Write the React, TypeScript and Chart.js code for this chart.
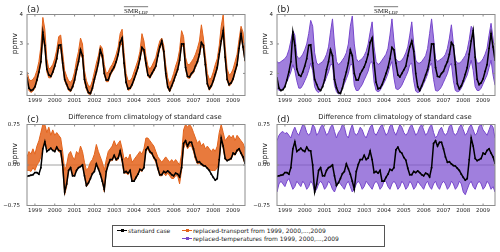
import React, { useEffect, useRef } from "react";
import { Chart, registerables } from "chart.js";

Chart.register(...registerables);

// ---------- data ----------
const YEARS = [1999, 2000, 2001, 2002, 2003, 2004, 2005, 2006, 2007, 2008, 2009];
const START = 1998.6;
const STEP = 0.1;

// standard case, SMR_LDP (ppmv)
const BLACK_A = [
  1.85, 1.5, 1.42, 1.45, 1.55, 1.78, 2.05, 2.4, 3.4, 2.95,
  2.15, 1.95, 1.9, 2.05, 2.25, 2.5, 2.95, 2.97, 2.35, 1.8,
  1.63, 1.47, 1.42, 1.55, 1.78, 2.13, 2.4, 2.8, 2.6, 1.8,
  1.52, 1.35, 1.32, 1.5, 1.8, 2.05, 2.35, 2.8, 2.6, 2.0,
  1.78, 1.78, 1.98, 2.1, 2.22, 2.4, 2.65, 3.05, 3.2, 2.35,
  1.7, 1.48, 1.5, 1.62, 1.8, 2.0, 2.2, 2.5, 2.88, 2.8,
  2.35, 1.95, 1.88, 2.0, 2.12, 2.25, 2.6, 2.9, 3.1, 2.75,
  2.0, 1.55, 1.42, 1.58, 1.75, 1.95, 2.13, 2.45, 3.0, 3.0,
  2.2, 1.9, 1.88, 2.0, 2.07, 2.25, 2.4, 2.65, 3.05, 2.95,
  2.3, 1.65, 1.48, 1.58, 1.75, 1.97, 2.2, 2.65, 3.1, 3.45,
  2.55, 1.8, 1.62, 1.68, 1.82, 2.07, 2.3, 2.85, 3.35, 2.9,
  2.45,
];

// replaced-transport ensemble envelope
const ORANGE_HI_A = [
  2.05, 1.8, 1.75, 1.8, 1.9, 2.1, 2.4, 2.9, 3.9, 3.5,
  2.5, 2.15, 2.2, 2.3, 2.5, 2.8, 3.25, 3.3, 2.7, 2.1,
  1.9, 1.75, 1.7, 1.8, 2.05, 2.45, 2.75, 3.2, 3.0, 2.1,
  1.75, 1.58, 1.55, 1.75, 2.05, 2.35, 2.6, 2.95, 2.85, 2.3,
  2.0, 2.05, 2.2, 2.3, 2.45, 2.65, 2.9, 3.35, 3.5, 2.7,
  2.0, 1.75, 1.75, 1.85, 2.05, 2.25, 2.45, 2.75, 3.35, 3.1,
  2.6, 2.25, 2.15, 2.25, 2.4, 2.55, 2.85, 3.1, 3.2, 2.95,
  2.3, 1.85, 1.65, 1.8, 2.0, 2.25, 2.45, 2.8, 3.45, 3.25,
  2.55, 2.3, 2.3, 2.4, 2.5, 2.65, 2.85, 3.1, 3.65, 3.2,
  2.6, 2.0, 1.8, 1.85, 2.05, 2.3, 2.5, 2.95, 3.6, 4.0,
  2.9, 2.15, 1.95, 2.0, 2.15, 2.4, 2.65, 3.15, 3.6, 3.4,
  2.7,
];
const ORANGE_LO_A = [
  1.8, 1.42, 1.35, 1.4, 1.5, 1.72, 2.0, 2.35, 3.2, 2.85,
  2.05, 1.85, 1.85, 2.0, 2.2, 2.45, 2.85, 2.85, 2.25, 1.75,
  1.58, 1.42, 1.38, 1.5, 1.72, 2.05, 2.35, 2.7, 2.5, 1.72,
  1.45, 1.3, 1.28, 1.45, 1.75, 2.0, 2.3, 2.7, 2.5, 1.95,
  1.72, 1.72, 1.92, 2.05, 2.15, 2.35, 2.6, 2.95, 3.0, 2.25,
  1.65, 1.43, 1.45, 1.57, 1.75, 1.95, 2.15, 2.45, 2.8, 2.7,
  2.25, 1.9, 1.83, 1.95, 2.07, 2.2, 2.55, 2.85, 3.0, 2.65,
  1.95, 1.5, 1.38, 1.52, 1.7, 1.9, 2.08, 2.4, 2.95, 2.9,
  2.15, 1.85, 1.83, 1.95, 2.02, 2.2, 2.35, 2.6, 2.95, 2.85,
  2.25, 1.6, 1.43, 1.53, 1.7, 1.92, 2.15, 2.6, 3.05, 3.35,
  2.45, 1.75, 1.57, 1.63, 1.77, 2.02, 2.25, 2.8, 3.25, 2.85,
  2.4,
];

// replaced-temperatures ensemble envelope
const PURPLE_HI_B = [
  2.4, 2.35, 2.4, 2.45, 2.5, 2.6, 2.8, 3.1, 3.45, 3.3,
  2.6, 2.5, 2.55, 2.65, 2.8, 3.0, 3.35, 3.8, 3.6, 2.7,
  2.35, 2.3, 2.35, 2.4, 2.5, 2.65, 2.9, 3.4, 3.85, 3.0,
  2.4, 2.3, 2.35, 2.45, 2.55, 2.7, 3.0, 3.6, 3.95, 3.0,
  2.5, 2.4, 2.45, 2.5, 2.6, 2.75, 3.0, 3.4, 3.75, 2.9,
  2.4, 2.3, 2.35, 2.45, 2.55, 2.65, 2.85, 3.3, 3.85, 3.1,
  2.5, 2.4, 2.4, 2.45, 2.55, 2.7, 2.9, 3.3, 3.75, 3.0,
  2.45, 2.35, 2.35, 2.4, 2.5, 2.6, 2.85, 3.35, 3.85, 3.2,
  2.5, 2.4, 2.45, 2.5, 2.55, 2.65, 2.85, 3.2, 3.65, 3.0,
  2.45, 2.35, 2.35, 2.4, 2.5, 2.6, 2.8, 3.15, 3.6, 3.5,
  2.6, 2.35, 2.35, 2.4, 2.5, 2.65, 2.85, 3.3, 3.7, 3.2,
  2.55,
];
const PURPLE_LO_B = [
  1.5, 1.42, 1.42, 1.5, 1.6, 1.72, 1.88, 2.05, 2.3, 2.1,
  1.75, 1.5, 1.5, 1.6, 1.75, 1.9, 2.1, 2.35, 2.1, 1.55,
  1.4, 1.35, 1.42, 1.55, 1.7, 1.88, 2.05, 2.3, 2.3, 1.6,
  1.38, 1.3, 1.32, 1.48, 1.65, 1.82, 2.0, 2.3, 2.3, 1.6,
  1.42, 1.42, 1.52, 1.62, 1.78, 1.92, 2.08, 2.35, 2.4, 1.7,
  1.42, 1.38, 1.42, 1.55, 1.68, 1.82, 2.0, 2.25, 2.4, 1.85,
  1.48, 1.45, 1.5, 1.6, 1.75, 1.9, 2.05, 2.3, 2.35, 1.75,
  1.4, 1.35, 1.38, 1.5, 1.65, 1.8, 1.98, 2.25, 2.35, 1.8,
  1.42, 1.4, 1.45, 1.55, 1.7, 1.85, 2.0, 2.25, 2.35, 1.75,
  1.42, 1.38, 1.4, 1.5, 1.65, 1.8, 1.95, 2.2, 2.45, 2.1,
  1.55, 1.42, 1.42, 1.5, 1.65, 1.8, 1.95, 2.2, 2.45, 1.95,
  1.6,
];

// difference from climatology of standard case
const BLACK_C = [
  -0.21, -0.2, -0.19, -0.18, -0.14, -0.14, -0.17, -0.05, 0.3, 0.43,
  0.25, 0.28, 0.31, 0.27, 0.25, 0.33, 0.27, 0.26, 0.0, -0.5,
  -0.35, -0.1, -0.05, -0.2, -0.2, -0.1, -0.05, -0.03, 0.0, -0.2,
  -0.38, -0.33, -0.25, -0.16, -0.12, 0.02, -0.07, -0.17, -0.3, -0.45,
  -0.12, 0.01, 0.1, 0.1, 0.18, 0.1, 0.13, 0.26, 0.1, -0.14,
  -0.12, -0.15, -0.1, -0.3, -0.3, -0.23, -0.17, -0.08, -0.1, -0.05,
  0.28, 0.33, 0.25, 0.22, 0.14, 0.09, -0.06, -0.18, -0.18, -0.12,
  -0.14, -0.11, -0.14, -0.18, -0.2, -0.15, -0.17, -0.22, -0.05, 0.4,
  0.45, 0.35, 0.42, 0.42, 0.3, 0.15, 0.05, 0.06, 0.02, -0.01,
  -0.02, -0.06, -0.1, -0.17, -0.23, -0.28, -0.25, 0.1, 0.5, 0.35,
  0.12, 0.08, 0.1, 0.12, 0.22, 0.2, 0.27, 0.3, 0.22, 0.15,
  0.03,
];
const ORANGE_HI_C = [
  0.15, 0.25, 0.2, 0.3, 0.2, 0.35, 0.45, 0.6, 0.75, 0.75,
  0.6, 0.7, 0.55, 0.65, 0.55, 0.6, 0.55, 0.5, 0.25, -0.1,
  0.0, 0.2, 0.25, 0.15, 0.1, 0.25, 0.2, 0.35, 0.25, 0.05,
  -0.1, -0.05, 0.05, 0.1, 0.2, 0.38, 0.25, 0.15, 0.05, -0.1,
  0.1, 0.25, 0.3, 0.35, 0.45, 0.35, 0.4, 0.45, 0.3, 0.1,
  0.15, 0.1, 0.2, 0.05, 0.1, 0.15, 0.2, 0.25, 0.2, 0.3,
  0.5, 0.5, 0.45, 0.4, 0.35, 0.25, 0.15, 0.1, 0.05, 0.1,
  0.15, 0.1, 0.05, 0.1, 0.05, 0.1, 0.05, 0.0, 0.2, 0.65,
  0.75, 0.7, 0.75, 0.7, 0.6, 0.5, 0.4, 0.45, 0.35, 0.4,
  0.3, 0.35, 0.3, 0.25, 0.3, 0.25, 0.35, 0.6, 0.75, 0.6,
  0.45, 0.5, 0.55, 0.5, 0.55, 0.45, 0.55, 0.5, 0.45, 0.4,
  0.3,
];
const ORANGE_LO_C = [
  -0.1, -0.1, -0.12, -0.05, -0.1, 0.0, 0.05, 0.15, 0.35, 0.45,
  0.3, 0.3, 0.3, 0.28, 0.25, 0.3, 0.25, 0.22, -0.05, -0.55,
  -0.4, -0.1, -0.05, -0.2, -0.2, -0.08, -0.05, 0.0, 0.0, -0.2,
  -0.4, -0.35, -0.25, -0.15, -0.12, 0.02, -0.07, -0.17, -0.3, -0.5,
  -0.12, 0.0, 0.08, 0.08, 0.15, 0.08, 0.1, 0.22, 0.05, -0.15,
  -0.15, -0.18, -0.12, -0.3, -0.3, -0.25, -0.18, -0.1, -0.12, -0.05,
  0.25, 0.3, 0.22, 0.2, 0.12, 0.05, -0.08, -0.2, -0.2, -0.15,
  -0.2, -0.15, -0.2, -0.25, -0.25, -0.2, -0.2, -0.35, -0.1, 0.3,
  0.4, 0.3, 0.35, 0.35, 0.25, 0.1, 0.02, 0.03, 0.0, -0.02,
  -0.03, -0.05, -0.08, -0.1, -0.1, -0.1, -0.05, 0.1, 0.45, 0.3,
  0.1, 0.08, 0.1, 0.1, 0.2, 0.18, 0.25, 0.28, 0.2, 0.12,
  0.02,
];
const PURPLE_HI_D = [
  0.45, 0.55, 0.6, 0.62, 0.58, 0.6, 0.55, 0.5, 0.62, 0.7,
  0.6, 0.55, 0.65, 0.75, 0.72, 0.6, 0.55, 0.6, 0.75, 0.7,
  0.55, 0.6, 0.7, 0.75, 0.65, 0.55, 0.6, 0.7, 0.75, 0.62,
  0.5, 0.6, 0.65, 0.75, 0.7, 0.55, 0.5, 0.65, 0.75, 0.6,
  0.55, 0.6, 0.7, 0.65, 0.55, 0.5, 0.6, 0.7, 0.75, 0.6,
  0.55, 0.62, 0.7, 0.75, 0.65, 0.55, 0.6, 0.72, 0.75, 0.62,
  0.55, 0.65, 0.75, 0.7, 0.6, 0.55, 0.6, 0.7, 0.75, 0.65,
  0.55, 0.6, 0.7, 0.75, 0.65, 0.55, 0.6, 0.7, 0.75, 0.6,
  0.5, 0.55, 0.65, 0.7, 0.6, 0.55, 0.6, 0.72, 0.75, 0.6,
  0.55, 0.6, 0.7, 0.75, 0.65, 0.55, 0.6, 0.7, 0.75, 0.65,
  0.55, 0.6, 0.72, 0.75, 0.65, 0.6, 0.55, 0.65, 0.75, 0.7,
  0.5,
];
const PURPLE_LO_D = [
  -0.5, -0.35, -0.3, -0.35, -0.4, -0.3, -0.25, -0.35, -0.45, -0.4,
  -0.3, -0.35, -0.4, -0.3, -0.35, -0.45, -0.4, -0.3, -0.35, -0.5,
  -0.45, -0.35, -0.3, -0.35, -0.45, -0.4, -0.3, -0.35, -0.45, -0.5,
  -0.4, -0.3, -0.35, -0.4, -0.45, -0.35, -0.3, -0.4, -0.5, -0.45,
  -0.35, -0.3, -0.35, -0.45, -0.4, -0.3, -0.35, -0.4, -0.45, -0.35,
  -0.3, -0.35, -0.45, -0.4, -0.3, -0.3, -0.4, -0.45, -0.35, -0.3,
  -0.35, -0.45, -0.4, -0.3, -0.35, -0.45, -0.4, -0.3, -0.35, -0.45,
  -0.4, -0.3, -0.35, -0.4, -0.45, -0.35, -0.3, -0.4, -0.45, -0.35,
  -0.3, -0.4, -0.45, -0.35, -0.3, -0.35, -0.45, -0.4, -0.3, -0.35,
  -0.45, -0.4, -0.3, -0.35, -0.5, -0.55, -0.45, -0.35, -0.3, -0.4,
  -0.45, -0.35, -0.3, -0.35, -0.45, -0.4, -0.3, -0.35, -0.45, -0.4,
  -0.5,
];

const SMR_TICKS = [2, 3, 4];
const DIFF_TICKS = [-0.75, 0, 0.75];
const DIFF_TICK_LABELS = ["\u22120.75", "0.00", "0.75"];

const TIMES = BLACK_A.map((_, i) => Math.round((START + i * STEP) * 100) / 100);

// ---------- style ----------
const ORANGE = "#e2631c";
const ORANGE_FILL = "rgba(229,104,34,0.88)";
const PURPLE = "#7747cc";
const PURPLE_FILL = "rgba(124,78,208,0.72)";
const SANS = "'DejaVu Sans', sans-serif";
const SERIF = "'Liberation Serif', 'DejaVu Serif', serif";

type Spec = {
  letter: string;
  kind: "smr" | "diff";
  yMin: number;
  yMax: number;
  black: number[];
  hi: number[];
  lo: number[];
  color: string;
  fill: string;
};

const pts = (arr: number[]) => arr.map((y, i) => ({ x: TIMES[i], y }));

function makeDeco(spec: Spec) {
  return {
    id: "deco" + spec.letter,
    beforeDatasetsDraw(chart: any) {
      if (spec.kind !== "diff") return;
      const { ctx, chartArea: a } = chart;
      const y = chart.scales.y.getPixelForValue(0);
      ctx.save();
      ctx.strokeStyle = "#8a8a8a";
      ctx.lineWidth = 0.8;
      ctx.beginPath();
      ctx.moveTo(a.left, y);
      ctx.lineTo(a.right, y);
      ctx.stroke();
      ctx.restore();
    },
    afterDatasetsDraw(chart: any) {
      const { ctx, chartArea: a } = chart;
      const xs = chart.scales.x;
      const ys = chart.scales.y;
      ctx.save();
      ctx.strokeStyle = "#8c8c8c";
      ctx.lineWidth = 1;
      ctx.strokeRect(a.left, a.top, a.right - a.left, a.bottom - a.top);
      ctx.beginPath();
      YEARS.forEach((yr) => {
        const px = xs.getPixelForValue(yr);
        ctx.moveTo(px, a.top);
        ctx.lineTo(px, a.top + 2);
        ctx.moveTo(px, a.bottom);
        ctx.lineTo(px, a.bottom - 2);
      });
      const yt = spec.kind === "smr" ? SMR_TICKS : DIFF_TICKS;
      yt.forEach((v) => {
        const py = ys.getPixelForValue(v);
        ctx.moveTo(a.left, py);
        ctx.lineTo(a.left + 2, py);
        ctx.moveTo(a.right, py);
        ctx.lineTo(a.right - 2, py);
      });
      ctx.stroke();

      ctx.fillStyle = "#222";
      ctx.textAlign = "left";
      ctx.textBaseline = "alphabetic";
      ctx.font = `9px ${SANS}`;
      ctx.fillText(spec.letter, a.left, a.top - 2.5);

      // y-axis label, placed like the original (left of the ticks, above centre)
      ctx.save();
      ctx.translate(17.3, a.top + (a.bottom - a.top) * 0.36);
      ctx.rotate(-Math.PI / 2);
      ctx.textAlign = "center";
      ctx.textBaseline = "alphabetic";
      ctx.font = `7.5px ${SANS}`;
      ctx.fillText("ppmv", 0, 0);
      ctx.restore();

      const cx = (a.left + a.right) / 2;
      if (spec.kind === "smr") {
        ctx.font = `7px ${SERIF}`;
        const w1 = ctx.measureText("SMR").width;
        ctx.font = `5px ${SERIF}`;
        const w2 = ctx.measureText("LDP").width;
        const x0 = cx - (w1 + w2) / 2;
        const base = a.top - 2;
        ctx.font = `7px ${SERIF}`;
        ctx.fillText("SMR", x0, base);
        ctx.font = `5px ${SERIF}`;
        ctx.fillText("LDP", x0 + w1, base + 1);
        ctx.strokeStyle = "#222";
        ctx.lineWidth = 0.6;
        ctx.beginPath();
        ctx.moveTo(x0, base - 5.8);
        ctx.lineTo(x0 + w1 + w2, base - 5.8);
        ctx.stroke();
      } else {
        ctx.font = `6.8px ${SANS}`;
        ctx.textAlign = "center";
        ctx.fillText("Difference from climatology of standard case", cx + 9, a.top - 6);
      }
      ctx.restore();
    },
  };
}

function buildConfig(spec: Spec): any {
  const yt = spec.kind === "smr" ? SMR_TICKS : DIFF_TICKS;
  return {
    type: "line",
    data: {
      datasets: [
        {
          data: pts(spec.black),
          borderColor: "#000",
          borderWidth: 1.5,
          pointRadius: 0.9,
          pointBackgroundColor: "#000",
          pointBorderWidth: 0,
          tension: 0,
          fill: false,
        },
        {
          data: pts(spec.lo),
          borderColor: spec.color,
          borderWidth: 1,
          pointRadius: 0,
          tension: 0,
          fill: false,
        },
        {
          data: pts(spec.hi),
          borderColor: spec.color,
          borderWidth: 1,
          pointRadius: 0,
          tension: 0,
          fill: { target: 1 },
          backgroundColor: spec.fill,
        },
      ],
    },
    options: {
      animation: false,
      responsive: false,
      devicePixelRatio: 1,
      events: [],
      layout: { padding: { top: 14.5, right: 5, left: 0, bottom: 0 } },
      plugins: { legend: { display: false }, tooltip: { enabled: false } },
      scales: {
        x: {
          type: "linear",
          min: 1998.6,
          max: 2009.6,
          afterBuildTicks: (s: any) => {
            s.ticks = YEARS.map((v) => ({ value: v }));
          },
          afterFit: (s: any) => {
            s.height = 12.5;
          },
          grid: { display: false, drawTicks: false },
          border: { display: false },
          ticks: {
            autoSkip: false,
            maxRotation: 0,
            padding: 2,
            color: "#222",
            font: { family: SANS, size: 5.5 },
            callback: (v: number) => String(v),
          },
        },
        y: {
          min: spec.yMin,
          max: spec.yMax,
          afterBuildTicks: (s: any) => {
            s.ticks = yt.map((v) => ({ value: v }));
          },
          afterFit: (s: any) => {
            s.width = 27;
          },
          grid: { display: false, drawTicks: false },
          border: { display: false },
          ticks: {
            padding: spec.kind === "smr" ? 4 : 7,
            color: "#222",
            font: { family: SANS, size: 5.5 },
            callback: (v: number) => {
              if (spec.kind === "smr") return String(v);
              const k = DIFF_TICKS.indexOf(v);
              return k >= 0 ? DIFF_TICK_LABELS[k] : "";
            },
          },
          title: { display: false },
        },
      },
    },
    plugins: [makeDeco(spec)],
  };
}

const PANELS: { spec: Spec; left: number; top: number }[] = [
  {
    left: 0, top: 0,
    spec: { letter: "(a)", kind: "smr", yMin: 1.25, yMax: 4, black: BLACK_A, hi: ORANGE_HI_A, lo: ORANGE_LO_A, color: ORANGE, fill: ORANGE_FILL },
  },
  {
    left: 250, top: 0,
    spec: { letter: "(b)", kind: "smr", yMin: 1.25, yMax: 4, black: BLACK_A, hi: PURPLE_HI_B, lo: PURPLE_LO_B, color: PURPLE, fill: PURPLE_FILL },
  },
  {
    left: 0, top: 110,
    spec: { letter: "(c)", kind: "diff", yMin: -0.75, yMax: 0.75, black: BLACK_C, hi: ORANGE_HI_C, lo: ORANGE_LO_C, color: ORANGE, fill: ORANGE_FILL },
  },
  {
    left: 250, top: 110,
    spec: { letter: "(d)", kind: "diff", yMin: -0.75, yMax: 0.75, black: BLACK_C, hi: PURPLE_HI_D, lo: PURPLE_LO_D, color: PURPLE, fill: PURPLE_FILL },
  },
];

function PanelChart({ spec, left, top }: { spec: Spec; left: number; top: number }) {
  const ref = useRef<HTMLCanvasElement | null>(null);
  useEffect(() => {
    if (!ref.current) return;
    const chart = new Chart(ref.current, buildConfig(spec));
    return () => chart.destroy();
  }, [spec]);
  return (
    <canvas
      ref={ref}
      width={250}
      height={108}
      style={{ position: "absolute", left, top, width: 250, height: 108 }}
    />
  );
}

function LegendItem({ x, y, color, text }: { x: number; y: number; color: string; text: string }) {
  return (
    <>
      <div style={{ position: "absolute", left: x, top: y - 0.75, width: 10, height: 1.5, background: color }} />
      <div style={{ position: "absolute", left: x + 4, top: y - 1.25, width: 2.5, height: 2.5, background: color }} />
      <span
        style={{
          position: "absolute",
          left: x + 11,
          top: y - 4,
          fontFamily: SANS,
          fontSize: 6,
          lineHeight: "8px",
          color: "#222",
          whiteSpace: "nowrap",
        }}
      >
        {text}
      </span>
    </>
  );
}

export default function App() {
  return (
    <div style={{ position: "fixed", left: 0, top: 0, width: 500, height: 252, background: "#fff", overflow: "hidden" }}>
      {PANELS.map((p) => (
        <PanelChart key={p.spec.letter} spec={p.spec} left={p.left} top={p.top} />
      ))}
      <div
        style={{
          position: "absolute",
          left: 112,
          top: 225,
          width: 273,
          height: 22,
          border: "1px solid #555",
          boxSizing: "border-box",
        }}
      >
        <LegendItem x={4} y={4.5} color="#000" text="standard case" />
        <LegendItem x={69} y={4.5} color={ORANGE} text="replaced-transport from 1999, 2000,...,2009" />
        <LegendItem x={69} y={12.5} color={PURPLE} text="replaced-temperatures from 1999, 2000,...,2009" />
      </div>
    </div>
  );
}
